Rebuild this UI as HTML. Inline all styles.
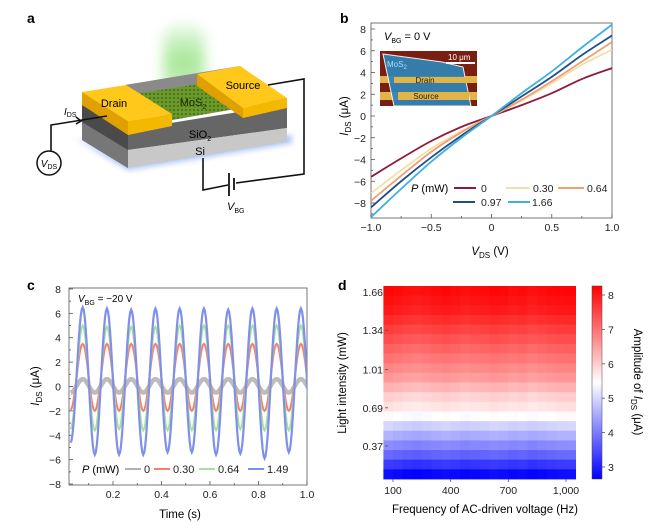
<!DOCTYPE html>
<html><head><meta charset="utf-8"><style>
html,body{margin:0;padding:0;background:#fff}
svg{display:block;font-family:"Liberation Sans",sans-serif}
</style></head><body>
<svg id="fig" width="660" height="523" viewBox="0 0 660 523" xmlns="http://www.w3.org/2000/svg">
<defs>
<filter id="blur8" x="-50%" y="-50%" width="200%" height="200%"><feGaussianBlur stdDeviation="7"/></filter>
<filter id="blur3" x="-50%" y="-50%" width="200%" height="200%"><feGaussianBlur stdDeviation="3"/></filter>
<pattern id="mos2" width="4" height="4" patternUnits="userSpaceOnUse"><rect width="4" height="4" fill="#6a9a2a"/><circle cx="2" cy="2" r="0.9" fill="#3c5a14"/></pattern>
<clipPath id="clipB"><rect x="371" y="23" width="241" height="195"/></clipPath>
<clipPath id="clipC"><rect x="69" y="288" width="238" height="197"/></clipPath>
<linearGradient id="cbar" x1="0" y1="1" x2="0" y2="0">
<stop offset="0" stop-color="#0000ff"/><stop offset="0.5" stop-color="#ffffff"/><stop offset="1" stop-color="#ff0000"/></linearGradient>
<linearGradient id="beam" x1="0" y1="0" x2="0" y2="1">
<stop offset="0" stop-color="#a8e89a" stop-opacity="0.3"/><stop offset="0.5" stop-color="#8ee07a" stop-opacity="0.8"/><stop offset="1" stop-color="#9ee08a" stop-opacity="0.5"/></linearGradient>
</defs>

<text x="27" y="23" font-size="14" font-weight="bold">a</text>
<text x="340" y="23" font-size="14" font-weight="bold">b</text>
<text x="27" y="290" font-size="14" font-weight="bold">c</text>
<text x="338" y="290" font-size="14" font-weight="bold">d</text>

<g>
<rect x="164" y="25" width="40" height="70" rx="14" fill="url(#beam)" filter="url(#blur8)"/>
<polygon points="75,138 128,170 292,143 292,135 128,160" fill="#8fb3ff" opacity="0.8" filter="url(#blur3)"/>
<polygon points="82,105 128,130 128,168 82,140" fill="#4a4a4a"/>
<polygon points="82,122 128,150 128,168 82,140" fill="#777"/>
<polygon points="128,130 287,104 287,128 128,150" fill="#666"/>
<polygon points="128,150 287,128 287,142 128,168" fill="#c8c8c8"/>
<polygon points="125,85 240,66 287,100 172,120" fill="#8a8a8a"/>
<polygon points="140,93 200,84 238,108 172,120" fill="url(#mos2)"/>
<polygon points="82,92 82,105 128,135 128,121" fill="#e0a000"/>
<polygon points="128,121 172,114 172,126 128,135" fill="#f5b800"/>
<polygon points="82,92 126,85 172,114 128,121" fill="#ffc81a"/>
<polygon points="197,74 197,86 243,118 243,108" fill="#e0a000"/>
<polygon points="243,108 287,98 287,108 243,118" fill="#f5b800"/>
<polygon points="197,74 240,66 287,98 243,108" fill="#ffc81a"/>
<text x="114" y="107" font-size="11" text-anchor="middle">Drain</text>
<text x="243" y="89" font-size="11" text-anchor="middle">Source</text>
<text x="193" y="106" font-size="11" text-anchor="middle" fill="#1a2a00">MoS<tspan font-size="7" dy="3">2</tspan></text>
<text x="200" y="138" font-size="11" text-anchor="middle">SiO<tspan font-size="7" dy="3">2</tspan></text>
<text x="200" y="155" font-size="11" text-anchor="middle">Si</text>
<g fill="none" stroke="#111" stroke-width="1.6">
<polyline points="268,85 304,79 304,174 236,183"/>
<polyline points="228,185 203,190 203,158"/>
<line x1="229" y1="173" x2="229" y2="196" stroke-width="1.8"/>
<line x1="234" y1="178" x2="234" y2="190" stroke-width="1.8"/>
<polyline points="51,151 51,125 107,116"/>
<polyline points="76,117 81,121 76,124"/>
</g>
<circle cx="49" cy="163" r="12" fill="#fff" stroke="#111" stroke-width="1.5"/>
<text x="49" y="167" font-size="10" text-anchor="middle"><tspan font-style="italic">V</tspan><tspan font-size="7" dy="2">DS</tspan></text>
<text x="64" y="115" font-size="10"><tspan font-style="italic">I</tspan><tspan font-size="7" dy="2">DS</tspan></text>
<text x="227" y="210" font-size="11"><tspan font-style="italic">V</tspan><tspan font-size="7" dy="3">BG</tspan></text>
</g>

<g id="pb">
<g>
<rect x="380" y="51" width="97" height="55" fill="#7a1e12"/>
<rect x="380" y="76" width="97" height="7" fill="#e2b448"/>
<rect x="380" y="92" width="97" height="8" fill="#e2b448"/>
<polygon points="383,54 442,62 463,67 471,106 394,106" fill="#2f86b8" opacity="0.92" stroke="#fff" stroke-width="1"/>
<rect x="394" y="77" width="73" height="6" fill="#e2b448"/>
<rect x="398" y="92" width="71" height="8" fill="#e2b448"/>
<line x1="446" y1="63" x2="475" y2="63" stroke="#fff" stroke-width="2"/>
<text x="448" y="60" font-size="8" fill="#fff">10 μm</text>
<text x="387" y="67" font-size="8" fill="#9fe0ff">MoS<tspan font-size="6" dy="2">2</tspan></text>
<text x="425" y="83" font-size="8" fill="#222" text-anchor="middle">Drain</text>
<text x="426" y="99" font-size="8" fill="#222" text-anchor="middle">Source</text>
</g>
<text x="384" y="40" font-size="11"><tspan font-style="italic">V</tspan><tspan font-size="7" dy="3">BG</tspan><tspan dy="-3"> = 0 V</tspan></text>
</g>

<g id="pc">
<text x="78" y="302" font-size="10"><tspan font-style="italic">V</tspan><tspan font-size="7" dy="3">BG</tspan><tspan dy="-3"> = −20 V</tspan></text>
</g>

<g id="pd">
<rect x="592" y="286" width="10" height="193" fill="url(#cbar)" stroke="#444" stroke-width="0.5"/>
</g>
</svg>
<script>
// ---------- Panel b data ----------
const ivX = [-1,-0.75,-0.5,-0.25,0,0.25,0.5,0.75,1];
const ivP0 = [-5.6,-3.9,-2.3,-1.0,0,1.0,2.1,3.4,4.4];
const ivP030 = [-7.1,-5.0,-3.0,-1.4,0,1.4,3.0,4.7,6.1];
const ivP064 = [-7.8,-5.5,-3.3,-1.5,0,1.5,3.2,5.0,6.8];
const ivP097 = [-8.4,-6.0,-3.8,-1.8,0,1.8,3.6,5.6,7.4];
const ivP166 = [-9.3,-6.7,-4.2,-2.0,0,2.1,4.1,6.3,8.4];
const ivLabels = ["0","0.30","0.64","0.97","1.66"];
const ivYTicks = [-8,-6,-4,-2,0,2,4,6,8];
const ivXTicks = [-1,-0.5,0,0.5,1];
const ivXTickLabels = ["−1.0","−0.5","0","0.5","1.0"];
// ---------- Panel c data ----------
const tPeakTimes = [0.075,0.175,0.275,0.375,0.475,0.575,0.675,0.775,0.875,0.975];
const tTroughTimes = [0.025,0.125,0.225,0.325,0.425,0.525,0.625,0.725,0.825,0.925,1.025];
const cP0Peaks = [0.6,0.6,0.6,0.6,0.6,0.6,0.6,0.6,0.6,0.6];
const cP0Troughs = [-0.5,-0.5,-0.5,-0.5,-0.5,-0.5,-0.5,-0.5,-0.5,-0.5,-0.5];
const cP030Peaks = [3.5,3.5,3.5,3.5,3.5,3.5,3.5,3.5,3.5,3.5];
const cP030Troughs = [-1.9,-2.0,-2.0,-2.0,-2.0,-2.0,-2.0,-2.0,-2.0,-2.0,-2.0];
const cP064Peaks = [5.0,4.9,4.9,4.9,5.0,5.0,5.0,5.0,5.0,5.0];
const cP064Troughs = [-3.5,-3.6,-3.5,-3.6,-3.6,-3.6,-3.6,-3.5,-3.6,-3.6,-3.6];
const cP149Peaks = [6.5,6.4,6.3,6.4,6.4,6.4,6.3,6.4,6.4,6.4];
const cP149Troughs = [-4.6,-5.6,-5.6,-5.6,-5.4,-5.4,-5.6,-5.5,-5.9,-5.4,-5.4];
const cLabels = ["0","0.30","0.64","1.49"];
const cYTicks = [-8,-6,-4,-2,0,2,4,6,8];
const cXTicks = [0.2,0.4,0.6,0.8,1.0];
// ---------- Panel d data ----------
const dRowValues = [8.2,8.1,8.0,7.8,7.6,7.4,7.2,7.0,6.8,6.6,6.3,6.0,5.8,5.5,5.0,4.6,4.2,3.8,3.3,2.8];
const dColOffsets = [0.05,0,-0.05,-0.08,-0.05,0,0.03,0,-0.05,-0.02,0,0.04,0.02,-0.03,0,-0.06,-0.02,0.02,0.05,0.06];
const dFreqs = [75,125,175,225,275,325,375,425,475,525,575,625,675,725,775,825,875,925,975,1025];
const dYTicks = [0.37,0.69,1.01,1.34,1.66];
const dXTicks = [100,400,700,1000];
const dXTickLabels = ["100","400","700","1,000"];
const dCbarTicks = [3,4,5,6,7,8];

const NS = "http://www.w3.org/2000/svg";
function mk(tag, attrs, parent, text){
  const e = document.createElementNS(NS, tag);
  for (const k in attrs) e.setAttribute(k, attrs[k]);
  if (text !== undefined) e.textContent = text;
  parent.appendChild(e);
  return e;
}
function smoothPath(pts){
  let d = "M" + pts[0][0] + "," + pts[0][1];
  for (let i = 0; i < pts.length - 1; i++){
    const p0 = pts[Math.max(0,i-1)], p1 = pts[i], p2 = pts[i+1], p3 = pts[Math.min(pts.length-1,i+2)];
    const c1x = p1[0] + (p2[0]-p0[0])/6, c1y = p1[1] + (p2[1]-p0[1])/6;
    const c2x = p2[0] - (p3[0]-p1[0])/6, c2y = p2[1] - (p3[1]-p1[1])/6;
    d += " C" + c1x + "," + c1y + " " + c2x + "," + c2y + " " + p2[0] + "," + p2[1];
  }
  return d;
}

// ===== Panel b =====
(function(){
  const g = document.getElementById("pb");
  const L=371,R=612,T=23,B=218;
  const x = v => L + (v+1)/2*(R-L);
  const y = v => 116 - v*10.875;
  const frame = mk("rect",{x:L,y:T,width:R-L,height:B-T,fill:"none",stroke:"#555","stroke-width":0.8},g);
  
  
  for (let v=-9; v<=8; v++){
    const major = ivYTicks.indexOf(v) >= 0;
    mk("line",{x1:L,x2:L+(major?4:2),y1:y(v),y2:y(v),stroke:"#555","stroke-width":0.8},g);
  }
  ivYTicks.forEach(v=>{
    const t = mk("text",{x:L-5,y:y(v)+4,"font-size":10.5,"text-anchor":"end",fill:"#222"},g,v<0?"−"+(-v):String(v));
    
    
  });
  for (let v=-1; v<=1.001; v+=0.25){
    const major = Math.abs(v*2-Math.round(v*2))<1e-6;
    mk("line",{x1:x(v),x2:x(v),y1:B,y2:B-(major?4:2),stroke:"#555","stroke-width":0.8},g);
  }
  ivXTicks.forEach((v,i)=>{
    const t = mk("text",{x:x(v),y:B+13,"font-size":10.5,"text-anchor":"middle",fill:"#222"},g,ivXTickLabels[i]);
    
    
  });
  const yt = mk("text",{x:0,y:0,"font-size":11.5,"text-anchor":"middle",transform:"translate(348,116) rotate(-90)"},g);
  yt.innerHTML = '<tspan font-style="italic">I</tspan><tspan font-size="8" dy="3">DS</tspan><tspan dy="-3"> (μA)</tspan>';
  
  
  const xt = mk("text",{x:490,y:255,"font-size":11.5,"text-anchor":"middle"},g);
  xt.innerHTML = '<tspan font-style="italic">V</tspan><tspan font-size="8" dy="3">DS</tspan><tspan dy="-3"> (V)</tspan>';
  
  
  const series = [ivP0, ivP030, ivP064, ivP097, ivP166];
  const colors = ["#8c1c3c","#f3e0a8","#f0a070","#1f4f8f","#3fb0e0"];
  const cg = mk("g",{"clip-path":"url(#clipB)"},g);
  series.forEach((s,i)=>{
    const p = mk("path",{d:smoothPath(ivX.map((v,j)=>[x(v),y(s[j])])),fill:"none",stroke:colors[i],"stroke-width":1.8},cg);
    
    
  });
  const lt = mk("text",{x:411,y:192,"font-size":11},g);
  lt.innerHTML = '<tspan font-style="italic">P</tspan> (mW)';
  
  
  const pos = [[454,476,481,188],[506,530,533,188],[558,584,587,188],[453,475,481,202],[508,530,532,202]];
  ivLabels.forEach((lab,i)=>{
    const le = mk("g",{},g);
    
    
    mk("line",{x1:pos[i][0],x2:pos[i][1],y1:pos[i][3],y2:pos[i][3],stroke:colors[i],"stroke-width":2},le);
    mk("text",{x:pos[i][2],y:pos[i][3]+4,"font-size":10.5,fill:"#222"},le,lab);
  });
})();

// ===== Panel c =====
(function(){
  const g = document.getElementById("pc");
  const L=69,R=307,T=288,B=485;
  const x = v => 64.5 + v*242.5;
  const y = v => 386.5 - v*12.19;
  const frame = mk("rect",{x:L,y:T,width:R-L,height:B-T,fill:"none",stroke:"#555","stroke-width":0.8},g);
  
  
  for (let v=-8; v<=8; v++){
    const major = v%2===0;
    mk("line",{x1:L,x2:L+(major?4:2),y1:y(v),y2:y(v),stroke:"#555","stroke-width":0.8},g);
  }
  cYTicks.forEach(v=>{
    const t = mk("text",{x:L-8,y:y(v)+4,"font-size":10.5,"text-anchor":"end",fill:"#222"},g,v<0?"−"+(-v):String(v));
    
    
  });
  for (let k=1; k<=10; k++){
    const v = k/10, major = k%2===0;
    mk("line",{x1:x(v),x2:x(v),y1:B,y2:B-(major?4:2),stroke:"#555","stroke-width":0.8},g);
  }
  cXTicks.forEach(v=>{
    const t = mk("text",{x:x(v),y:B+13,"font-size":10.5,"text-anchor":"middle",fill:"#222"},g,v.toFixed(1));
    
    
  });
  const yt = mk("text",{x:0,y:0,"font-size":11.5,"text-anchor":"middle",transform:"translate(39,386) rotate(-90)"},g);
  yt.innerHTML = '<tspan font-style="italic">I</tspan><tspan font-size="8" dy="3">DS</tspan><tspan dy="-3"> (μA)</tspan>';
  
  
  const xt = mk("text",{x:180,y:518,"font-size":11.5,"text-anchor":"middle"},g,"Time (s)");
  
  
  const peaks = [cP0Peaks,cP030Peaks,cP064Peaks,cP149Peaks];
  const troughs = [cP0Troughs,cP030Troughs,cP064Troughs,cP149Troughs];
  const colors = ["#b0b0b0","#f08070","#a8e0a0","#7f90e8"];
  const widths = [4.5,2,2,2.2];
  const cg = mk("g",{"clip-path":"url(#clipC)"},g);
  peaks.forEach((pk,si)=>{
    const ext = [];
    tTroughTimes.forEach((t,i)=>{
      ext.push([t, troughs[si][i]]);
      if (i < tPeakTimes.length) ext.push([tPeakTimes[i], pk[i]]);
    });
    let d = "";
    for (let i=0;i<ext.length-1;i++){
      const a = ext[i], b = ext[i+1];
      for (let s=0;s<=12;s++){
        const f = s/12;
        const t = a[0] + (b[0]-a[0])*f;
        const v = a[1] + (b[1]-a[1])*(1-Math.cos(Math.PI*f))/2;
        d += (d===""?"M":"L") + x(t).toFixed(2) + "," + y(v).toFixed(2) + " ";
      }
    }
    const p = mk("path",{d:d,fill:"none",stroke:colors[si],"stroke-width":widths[si],opacity:si===0?0.85:1},cg);
    
    
  });
  const lt = mk("text",{x:82,y:473,"font-size":11},g);
  lt.innerHTML = '<tspan font-style="italic">P</tspan> (mW)';
  
  
  const xs = [144,173,218,267];
  cLabels.forEach((lab,i)=>{
    const le = mk("g",{},g);
    
    
    mk("line",{x1:xs[i]-19,x2:xs[i]-3,y1:469,y2:469,stroke:colors[i],"stroke-width":2},le);
    mk("text",{x:xs[i],y:473,"font-size":11,fill:"#222"},le,lab);
  });
})();

// ===== Panel d =====
(function(){
  const g = document.getElementById("pd");
  const L=388,R=581,T=286,B=479;
  const fx = v => 393 + (v-100)*(173/900);
  const iy = v => 292 + (1.66-v)*119.4;
  const rowH = (B-T)/dRowValues.length;
  const colW = fx(dFreqs[1]) - fx(dFreqs[0]);
  const vmin=2.7, vmax=8.3;
  function cmap(v){
    let t = (v-vmin)/(vmax-vmin); t = Math.max(0,Math.min(1,t));
    let r,gg,b;
    if (t<0.5){ r=gg=Math.round(2*t*255); b=255; } else { r=255; gg=b=Math.round((2-2*t)*255); }
    return "rgb("+r+","+gg+","+b+")";
  }
  const hg = mk("g",{},g);
  
  
  dRowValues.forEach((rv,ri)=>{
    dFreqs.forEach((f,ci)=>{
      const c = mk("rect",{x:(fx(f)-colW/2).toFixed(2),y:(T+ri*rowH).toFixed(2),width:(colW+0.4).toFixed(2),height:(rowH+0.4).toFixed(2),fill:cmap(rv+dColOffsets[ci])},hg);
      
      
    });
  });
  dYTicks.forEach(v=>{
    mk("line",{x1:L-3,x2:L,y1:iy(v),y2:iy(v),stroke:"#555","stroke-width":0.8},g);
    const t = mk("text",{x:L-5,y:iy(v)+4,"font-size":10.5,"text-anchor":"end",fill:"#222"},g,v.toFixed(2));
    
    
  });
  dXTicks.forEach((v,i)=>{
    mk("line",{x1:fx(v),x2:fx(v),y1:B,y2:B+3,stroke:"#555","stroke-width":0.8},g);
    const t = mk("text",{x:fx(v),y:B+15,"font-size":10.5,"text-anchor":"middle",fill:"#222"},g,dXTickLabels[i]);
    
    
  });
  const yt = mk("text",{x:0,y:0,"font-size":11.5,"text-anchor":"middle",transform:"translate(346,383) rotate(-90)"},g,"Light intensity (mW)");
  
  
  const xt = mk("text",{x:485,y:513,"font-size":11.5,"text-anchor":"middle"},g,"Frequency of AC-driven voltage (Hz)");
  
  
  const cy = v => 467 - (v-3)*34.4;
  dCbarTicks.forEach(v=>{
    mk("line",{x1:602,x2:605,y1:cy(v),y2:cy(v),stroke:"#555","stroke-width":0.8},g);
    const t = mk("text",{x:608,y:cy(v)+4,"font-size":10.5,fill:"#222"},g,String(v));
    
    
  });
  const ct = mk("text",{x:0,y:0,"font-size":11.5,"text-anchor":"middle",transform:"translate(634,382) rotate(90)"},g);
  ct.innerHTML = 'Amplitude of <tspan font-style="italic">I</tspan><tspan font-size="8" dy="3">DS</tspan><tspan dy="-3"> (μA)</tspan>';
  
  
})();
</script>
</body></html>
